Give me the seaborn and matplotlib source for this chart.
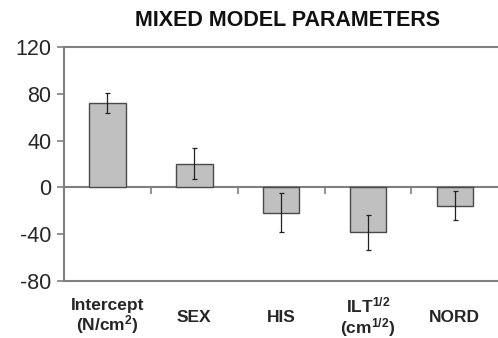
import matplotlib
matplotlib.use("Agg")
import matplotlib.pyplot as plt
import seaborn as sns
import numpy as np
import pandas as pd

categories = ["Intercept", "SEX", "HIS", "ILT", "NORD"]
tick_labels = ["Intercept\n(N/cm$^{2}$)", "SEX", "HIS", "ILT$^{1/2}$\n(cm$^{1/2}$)", "NORD"]
values = [72.5, 20.3, -21.5, -38.3, -15.5]
errors = [8.5, 13.4, 17.0, 15.0, 12.2]
yticks = [-80, -40, 0, 40, 80, 120]

sns.set_theme(style="white")
plt.rcParams["font.family"] = ["Liberation Sans", "DejaVu Sans"]
plt.rcParams["mathtext.fontset"] = "custom"
plt.rcParams["mathtext.rm"] = "Liberation Sans:bold"
plt.rcParams["mathtext.it"] = "Liberation Sans:bold"
plt.rcParams["mathtext.bf"] = "Liberation Sans:bold"
plt.rcParams["mathtext.default"] = "rm"

axis_grey = "#7f7f7f"

fig = plt.figure(figsize=(4.98, 3.38), dpi=100)
ax = fig.add_axes([0.1285, 0.1686, 0.872, 0.6924])

df = pd.DataFrame({"cat": categories, "val": values})
sns.barplot(data=df, x="cat", y="val", color="#c0c0c0", edgecolor="#4a4a4a",
            linewidth=1.0, width=0.42, errorbar=None, saturation=1, ax=ax)
ax.errorbar(np.arange(len(categories)), values, yerr=errors, fmt="none",
            ecolor="#222222", elinewidth=0.9, capsize=1.8, capthick=0.9, zorder=5)

ax.set_ylim(-80, 120)
ax.set_xlim(-0.5, len(categories) - 0.5)
ax.set_yticks(yticks)
ax.set_yticklabels([str(t) for t in yticks], fontsize=15.5)
ax.tick_params(axis="y", direction="out", length=5, width=1.2, color=axis_grey, pad=4, left=True)

ax.set_xticks(np.arange(len(categories)))
ax.set_xticklabels(tick_labels, fontsize=12.5, fontweight="bold", linespacing=1.0)
for lab in ax.get_xticklabels():
    lab.set_va("center")
ax.tick_params(axis="x", length=0, pad=26)
ax.set_xlabel("")
ax.set_ylabel("")

for side in ["left", "top", "bottom"]:
    ax.spines[side].set_visible(True)
    ax.spines[side].set_color(axis_grey)
    ax.spines[side].set_linewidth(1.5)
ax.spines["right"].set_visible(False)

# zero axis line with category-boundary ticks
zero_pos = (0 - (-80)) / (120 - (-80))
sec = ax.secondary_xaxis(zero_pos)
sec.set_xticks(np.arange(len(categories) - 1) + 0.5)
sec.set_xticklabels([])
sec.tick_params(direction="out", length=5, width=1.2, color=axis_grey)
sec.spines["bottom"].set_color(axis_grey)
sec.spines["bottom"].set_linewidth(1.5)

fig.text(0.578, 0.94, "MIXED MODEL PARAMETERS", ha="center", va="center",
         fontsize=15.5, fontweight="bold", color="#111111")

fig.savefig("out.png", dpi=100)
